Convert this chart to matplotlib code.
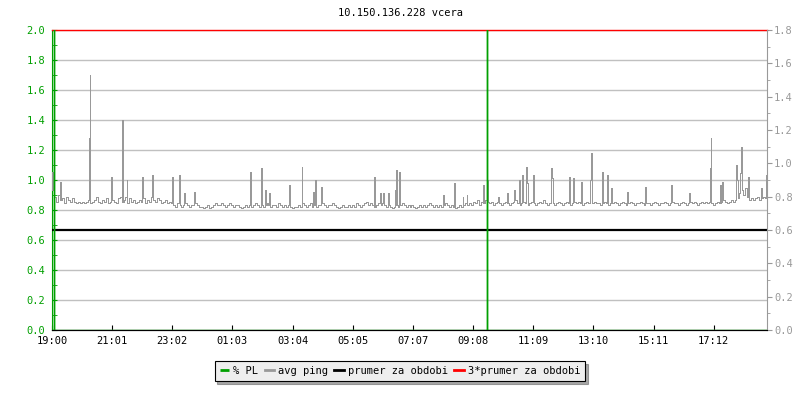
import matplotlib
matplotlib.use('Agg')
import matplotlib.pyplot as plt
from matplotlib.ticker import MultipleLocator

title = '10.150.136.228 vcera'
time_labels = ['19:00', '21:01', '23:02', '01:03', '03:04', '05:05',
               '07:07', '09:08', '11:09', '13:10', '15:11', '17:12']
tick_step = 121.17   # minutes between the time labels
span = 1440          # minutes shown (19:00 -> 19:00)

# avg ping, one reading every 4 minutes from 19:00 (right axis)
ping_base = [
    0.84, 0.80, 0.77, 0.81, 0.78, 0.79, 0.76, 0.80, 0.78, 0.77, 0.79, 0.77, 0.76, 0.77, 0.76,
    0.77, 0.76, 0.77, 0.78, 0.76, 0.77, 0.78, 0.80, 0.77, 0.76, 0.78, 0.77, 0.79, 0.76, 0.77,
    0.78, 0.77, 0.76, 0.79, 0.80, 0.77, 0.78, 0.80, 0.76, 0.79, 0.77, 0.78, 0.76, 0.77, 0.78,
    0.77, 0.79, 0.76, 0.78, 0.77, 0.80, 0.78, 0.77, 0.79, 0.78, 0.76, 0.77, 0.78, 0.76, 0.77,
    0.76, 0.75, 0.74, 0.76, 0.75, 0.74, 0.75, 0.76, 0.75, 0.74, 0.75, 0.75, 0.76, 0.75, 0.74,
    0.74, 0.73, 0.74, 0.75, 0.73, 0.74, 0.75, 0.76, 0.75, 0.75, 0.76, 0.75, 0.74, 0.75, 0.76,
    0.75, 0.74, 0.75, 0.75, 0.74, 0.73, 0.74, 0.75, 0.74, 0.75, 0.74, 0.75, 0.76, 0.75, 0.74,
    0.75, 0.74, 0.75, 0.76, 0.75, 0.74, 0.75, 0.75, 0.74, 0.76, 0.75, 0.74, 0.75, 0.74, 0.75,
    0.74, 0.73, 0.74, 0.74, 0.75, 0.74, 0.76, 0.75, 0.74, 0.75, 0.76, 0.74, 0.75, 0.74, 0.75,
    0.75, 0.76, 0.75, 0.74, 0.75, 0.75, 0.76, 0.75, 0.74, 0.73, 0.74, 0.75, 0.74, 0.74, 0.75,
    0.74, 0.75, 0.74, 0.76, 0.75, 0.74, 0.75, 0.76, 0.77, 0.75, 0.76, 0.75, 0.74, 0.75, 0.76,
    0.75, 0.76, 0.75, 0.74, 0.75, 0.74, 0.73, 0.74, 0.75, 0.74, 0.75, 0.76, 0.75, 0.74, 0.75,
    0.74, 0.75, 0.74, 0.73, 0.74, 0.75, 0.74, 0.75, 0.74, 0.75, 0.76, 0.75, 0.74, 0.75, 0.74,
    0.75, 0.74, 0.75, 0.76, 0.75, 0.74, 0.75, 0.74, 0.73, 0.74, 0.75, 0.74, 0.75, 0.76, 0.75,
    0.76, 0.75, 0.77, 0.76, 0.78, 0.75, 0.77, 0.76, 0.78, 0.77, 0.76, 0.77, 0.75, 0.76, 0.77,
    0.76, 0.75, 0.76, 0.77, 0.76, 0.75, 0.76, 0.77, 0.78, 0.76, 0.75, 0.76, 0.77, 0.76, 0.75,
    0.76, 0.77, 0.76, 0.75, 0.76, 0.77, 0.76, 0.78, 0.76, 0.75, 0.76, 0.77, 0.76, 0.75, 0.76,
    0.77, 0.76, 0.75, 0.76, 0.77, 0.76, 0.75, 0.76, 0.77, 0.76, 0.77, 0.76, 0.75, 0.76, 0.77,
    0.76, 0.75, 0.76, 0.77, 0.76, 0.76, 0.75, 0.76, 0.77, 0.76, 0.75, 0.76, 0.76, 0.77, 0.76,
    0.75, 0.76, 0.77, 0.76, 0.75, 0.76, 0.77, 0.76, 0.75, 0.76, 0.76, 0.77, 0.76, 0.75, 0.76,
    0.76, 0.75, 0.76, 0.77, 0.76, 0.75, 0.76, 0.76, 0.77, 0.76, 0.75, 0.76, 0.77, 0.76, 0.76,
    0.75, 0.76, 0.77, 0.76, 0.75, 0.76, 0.77, 0.76, 0.77, 0.76, 0.75, 0.76, 0.77, 0.76, 0.77,
    0.76, 0.77, 0.76, 0.75, 0.76, 0.77, 0.76, 0.77, 0.78, 0.77, 0.76, 0.77, 0.78, 0.77, 0.78,
    0.79, 0.82, 0.84, 0.81, 0.85, 0.80, 0.78, 0.79, 0.78, 0.79, 0.80, 0.78, 0.79, 0.80, 0.79,
]

# short ping spikes: minute after 19:00 and value
spike_min = [1, 17, 75, 76, 119, 141, 142, 151, 182, 201, 241, 256, 266, 286,
             399, 421, 429, 437, 478, 503, 526, 530, 542, 649, 660, 667, 677,
             691, 693, 699, 788, 810, 827, 835, 869, 876, 899, 917, 930, 940,
             947, 954, 956, 968, 1004, 1006, 1042, 1050, 1065, 1084, 1086,
             1108, 1118, 1125, 1159, 1195, 1246, 1282, 1326, 1327, 1345, 1350,
             1378, 1380, 1386, 1388, 1402, 1428, 1438]
spike_val = [0.95, 0.89, 1.15, 1.53, 0.92, 1.26, 1.04, 0.90, 0.92, 0.93, 0.92,
             0.93, 0.82, 0.83, 0.95, 0.97, 0.84, 0.82, 0.87, 0.98, 0.83, 0.90,
             0.86, 0.92, 0.82, 0.82, 0.82, 0.84, 0.96, 0.95, 0.81, 0.88, 0.80,
             0.81, 0.87, 0.90, 0.80, 0.82, 0.84, 0.90, 0.93, 0.98, 0.88, 0.93,
             0.97, 0.91, 0.92, 0.91, 0.89, 0.90, 1.06, 0.95, 0.93, 0.85, 0.83,
             0.86, 0.87, 0.82, 0.97, 1.15, 0.87, 0.89, 0.99, 0.90, 0.94, 1.10,
             0.92, 0.85, 0.93]

avg_ping = 0.6

# packet loss (left axis): minute and %, only two short bursts
pl_min = [0, 5, 5, 5, 876, 876, 876, span]
pl_val = [0, 0, 3, 0, 0, 3, 0, 0]

green = '#00a000'
grey = '#999999'
mono = 'DejaVu Sans Mono'
fs = 7.5

# merge base readings and spikes into one series
pts = {4 * i: v for i, v in enumerate(ping_base)}
pts.setdefault(span, ping_base[-1])
for m, v in zip(spike_min, spike_val):
    pts.setdefault(m + 2, ping_base[min((m + 2) // 4, len(ping_base) - 1)])
    pts[m] = v
ping_t = sorted(pts)
ping_v = [pts[t] for t in ping_t]

fig = plt.figure(figsize=(8, 4), dpi=100)
ax = fig.add_axes([52 / 800, 70 / 400, 715 / 800, 300 / 400])
ax2 = ax.twinx()

ax.set_xlim(0, span)
ax.set_ylim(0, 2.0)
ax2.set_ylim(0, 3 * avg_ping)

ax.yaxis.set_major_locator(MultipleLocator(0.2))
ax.yaxis.set_minor_locator(MultipleLocator(0.1))
ax.yaxis.set_major_formatter(lambda v, p: '%.1f' % v)
ax.grid(axis='y', color='#c0c0c0', lw=1)
ax.set_axisbelow(True)

ax.set_xticks([i * tick_step for i in range(len(time_labels))])
ax.set_xticklabels(time_labels)

ax2.yaxis.set_major_locator(MultipleLocator(0.2))
ax2.yaxis.set_minor_locator(MultipleLocator(0.1))
ax2.yaxis.set_major_formatter(lambda v, p: '%.1f' % v)

for a in (ax, ax2):
    a.spines['top'].set_visible(False)
ax.spines['right'].set_visible(False)
ax2.spines['left'].set_visible(False)
ax.spines['left'].set_color(green)
ax2.spines['right'].set_color(grey)
ax.spines['bottom'].set_color('black')
ax2.spines['bottom'].set_color('black')

ax.tick_params(axis='y', which='both', direction='in', length=3.3, color=green,
               labelcolor=green, labelsize=fs, pad=5)
ax.tick_params(axis='x', direction='in', length=3.6, color='black', labelsize=fs, pad=4)
ax2.tick_params(axis='y', which='major', direction='out', length=3.6, color=grey,
                labelcolor=grey, labelsize=fs, pad=1.5)
ax2.tick_params(axis='y', which='minor', direction='out', length=2.2, color=grey)
for lab in ax.get_xticklabels() + ax.get_yticklabels() + ax2.get_yticklabels():
    lab.set_family(mono)

h_ping, = ax2.plot(ping_t, ping_v, drawstyle='steps-post', color=grey, lw=0.7,
                   antialiased=False, label='avg ping')
h_avg = ax2.axhline(avg_ping, color='black', lw=1.6, label='prumer za obdobi')
h_3avg = ax2.axhline(3 * avg_ping, color='red', lw=1, clip_on=False,
                     label='3*prumer za obdobi')
h_pl, = ax2.plot(pl_min, pl_val, color=green, lw=1.0, solid_capstyle='butt',
                 transform=ax.transData, label='% PL', zorder=3)

fig.text(0.5, 1 - 13 / 400, title, ha='center', va='center', family=mono, size=fs)

leg = fig.legend([h_pl, h_ping, h_avg, h_3avg],
                 ['% PL', 'avg ping', 'prumer za obdobi', '3*prumer za obdobi'],
                 loc='center', bbox_to_anchor=(0.5, 1 - 371 / 400), ncol=4,
                 prop={'family': mono, 'size': fs}, frameon=True, fancybox=False,
                 shadow={'color': '#555555', 'ox': 2, 'oy': -2}, handlelength=0.9,
                 handletextpad=0.4, columnspacing=0.6, borderpad=0.5, borderaxespad=0)
leg.get_frame().set_facecolor('#eeeeee')
leg.get_frame().set_edgecolor('black')
leg.get_frame().set_linewidth(0.8)
leg.get_frame().set_alpha(1)
for line in leg.get_lines():
    line.set_linewidth(2)
    line.set_antialiased(True)

fig.savefig('out.png', dpi=100)
